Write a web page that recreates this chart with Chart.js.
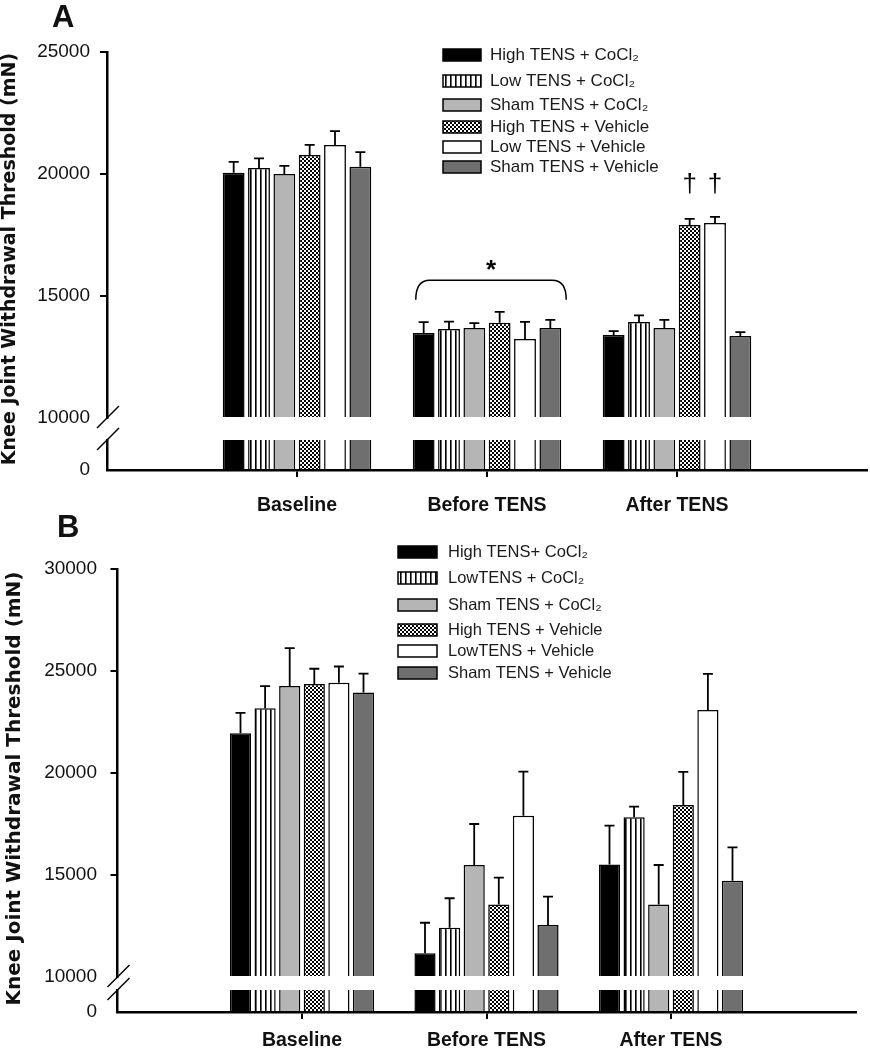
<!DOCTYPE html>
<html>
<head>
<meta charset="utf-8">
<script src="https://cdn.jsdelivr.net/npm/chart.js@4.4.1/dist/chart.umd.min.js"></script>
<style>
  html, body { margin: 0; padding: 0; background: #fff; }
  #page { position: relative; width: 870px; height: 1050px; overflow: hidden; }
  .panel { position: absolute; left: 0; width: 870px; height: 525px; }
  .tag { position: absolute; font: bold 31px "Liberation Sans", Arial, sans-serif; line-height: 1; color: #111; }
</style>
</head>
<body>
<div id="page">
  <div class="panel" style="top:0"><canvas id="chartA" width="870" height="525"></canvas></div>
  <div class="panel" style="top:525px"><canvas id="chartB" width="870" height="525"></canvas></div>
  <div class="tag" style="left:52px;top:1px">A</div>
  <div class="tag" style="left:57px;top:511px">B</div>
</div>
<script>
const groups = ["Baseline", "Before TENS", "After TENS"];
const namesA = ["High TENS + CoCl₂", "Low TENS + CoCl₂", "Sham TENS + CoCl₂", "High TENS + Vehicle", "Low TENS + Vehicle", "Sham TENS + Vehicle"];
const namesB = ["High TENS+ CoCl₂", "LowTENS + CoCl₂", "Sham TENS + CoCl₂", "High TENS + Vehicle", "LowTENS + Vehicle", "Sham TENS + Vehicle"];

// panel A, mN
const aHighCo  = [20050, 13480, 13400];
const aLowCo   = [20250, 13650, 13930];
const aShamCo  = [20000, 13690, 13690];
const aHighVeh = [20780, 13900, 17910];
const aLowVeh  = [21190, 13240, 17990];
const aShamVeh = [20300, 13690, 13360];
const aHighCoErr  = [450, 450, 160];
const aLowCoErr   = [390, 300, 280];
const aShamCoErr  = [330, 200, 330];
const aHighVehErr = [410, 450, 250];
const aLowVehErr  = [570, 700, 250];
const aShamVehErr = [600, 330, 160];

// panel B, mN
const bHighCo  = [21950, 11160, 15520];
const bLowCo   = [23170, 12420, 17830];
const bShamCo  = [24270, 15490, 13560];
const bHighVeh = [24360, 13560, 18430];
const bLowVeh  = [24430, 17910, 23090];
const bShamVeh = [23940, 12550, 14720];
const bHighCoErr  = [1000, 1500, 1900];
const bLowCoErr   = [1090, 1440, 520];
const bShamCoErr  = [1850, 2010, 1930];
const bHighVehErr = [750, 1310, 1630];
const bLowVehErr  = [790, 2160, 1770];
const bShamVehErr = [930, 1390, 1630];

const aTicks = [10000, 15000, 20000, 25000];
const bTicks = [10000, 15000, 20000, 25000, 30000];
const lowTicks = [0];

// annotations in panel A
const braceGroup = 1;
const braceTop = 15650;
const braceEnd = 14850;
const daggerGroup = 2;
const daggerSeries = [3, 4];
const daggerBase = 19260;

const yTitleText = "Knee Joint Withdrawal Threshold (mN)";

function makeFills() {
  const lines = document.createElement("canvas");
  lines.width = 5; lines.height = 5;
  let g = lines.getContext("2d");
  g.fillStyle = "#fff"; g.fillRect(0, 0, 5, 5);
  g.fillStyle = "#000"; g.fillRect(0, 0, 1.6, 5);
  const check = document.createElement("canvas");
  check.width = 4; check.height = 4;
  g = check.getContext("2d");
  g.fillStyle = "#fff"; g.fillRect(0, 0, 4, 4);
  g.fillStyle = "#000"; g.fillRect(0, 0, 2, 2); g.fillRect(2, 2, 2, 2);
  const c = document.createElement("canvas").getContext("2d");
  return ["#000", c.createPattern(lines, "repeat"), "#b5b5b5", c.createPattern(check, "repeat"), "#fff", "#6f6f6f"];
}

// keeps each bar inside its own piece of the broken axis
const clipToAxis = {
  id: "clipToAxis",
  beforeDatasetDraw(chart, args) {
    const ys = chart.scales[args.meta.yAxisID];
    const a = chart.chartArea;
    chart.ctx.save();
    chart.ctx.beginPath();
    chart.ctx.rect(a.left, ys.top, a.right - a.left, ys.bottom - ys.top);
    chart.ctx.clip();
  },
  afterDatasetDraw(chart) {
    chart.ctx.restore();
  }
};

const errorBars = {
  id: "errorBars",
  afterDatasetsDraw(chart) {
    const ctx = chart.ctx;
    chart.data.datasets.forEach((ds, i) => {
      if (!ds.errors) return;
      const meta = chart.getDatasetMeta(i);
      const ys = chart.scales[meta.yAxisID];
      meta.data.forEach((bar, k) => {
        const top = ys.getPixelForValue(ds.data[k].y + ds.errors[k]);
        ctx.save();
        ctx.strokeStyle = "#000";
        ctx.lineWidth = 1.8;
        ctx.beginPath();
        ctx.moveTo(bar.x, bar.y);
        ctx.lineTo(bar.x, top);
        ctx.moveTo(bar.x - 5, top);
        ctx.lineTo(bar.x + 5, top);
        ctx.stroke();
        ctx.restore();
      });
    });
  }
};

const breakMarks = {
  id: "breakMarks",
  afterDraw(chart) {
    const up = chart.scales.y, low = chart.scales.yLow, x = up.right;
    const ctx = chart.ctx;
    ctx.save();
    ctx.strokeStyle = "#000";
    ctx.lineWidth = 1.5;
    [up.bottom, low.top].forEach(y => {
      ctx.beginPath();
      ctx.moveTo(x - 10, y + 10);
      ctx.lineTo(x + 12, y - 12);
      ctx.stroke();
    });
    ctx.restore();
  }
};

function makeTitle(x, font) {
  return {
    id: "yTitle",
    afterDraw(chart) {
      const a = chart.chartArea, ctx = chart.ctx;
      ctx.save();
      ctx.translate(x, (a.top + a.bottom) / 2 - 2);
      ctx.rotate(-Math.PI / 2);
      ctx.font = font;
      ctx.fillStyle = "#111";
      ctx.textAlign = "center";
      ctx.textBaseline = "middle";
      ctx.fillText(yTitleText, 0, 0);
      ctx.restore();
    }
  };
}

function makeLegend(rows, boxX, boxW, textX, font) {
  return {
    id: "swatches",
    afterDraw(chart) {
      const ctx = chart.ctx;
      ctx.save();
      rows.forEach((cy, i) => {
        const ds = chart.data.datasets[2 * i];
        ctx.fillStyle = ds.backgroundColor;
        ctx.fillRect(boxX, cy - 6, boxW, 12);
        ctx.strokeStyle = "#000";
        ctx.lineWidth = 1.5;
        ctx.strokeRect(boxX, cy - 6, boxW, 12);
        ctx.fillStyle = "#1a1a1a";
        ctx.font = font;
        ctx.textAlign = "left";
        ctx.textBaseline = "middle";
        ctx.fillText(ds.label, textX, cy);
      });
      ctx.restore();
    }
  };
}

const marksA = {
  id: "marksA",
  afterDatasetsDraw(chart) {
    const ctx = chart.ctx, ys = chart.scales.y;
    const first = chart.getDatasetMeta(0).data[braceGroup];
    const last = chart.getDatasetMeta(10).data[braceGroup];
    const l = first.x - first.width / 2 + 3, r = last.x + last.width / 2 + 5;
    const yt = ys.getPixelForValue(braceTop), yd = ys.getPixelForValue(braceEnd);
    ctx.save();
    ctx.strokeStyle = "#000";
    ctx.lineWidth = 1.5;
    ctx.beginPath();
    ctx.moveTo(l, yd);
    ctx.quadraticCurveTo(l, yt, l + 14, yt);
    ctx.lineTo(r - 14, yt);
    ctx.quadraticCurveTo(r, yt, r, yd);
    ctx.stroke();
    ctx.fillStyle = "#000";
    ctx.textAlign = "center";
    ctx.textBaseline = "alphabetic";
    ctx.font = "bold 26px 'Liberation Sans'";
    ctx.fillText("*", (l + r) / 2, yt - 2);
    ctx.font = "26px 'Liberation Sans'";
    daggerSeries.forEach(s => {
      const b = chart.getDatasetMeta(s * 2).data[daggerGroup];
      ctx.fillText("†", b.x, ys.getPixelForValue(daggerBase));
    });
    ctx.restore();
  }
};

function panel(id, p) {
  const fills = makeFills();
  const datasets = [];
  p.values.forEach((vals, i) => {
    const pts = vals.map((y, k) => ({ x: k, y }));
    const style = {
      backgroundColor: fills[i], borderColor: "#000", borderWidth: 1.5, borderSkipped: "start",
      stack: "g" + i, categoryPercentage: 0.8, barPercentage: 0.86
    };
    datasets.push(Object.assign({ label: p.names[i], data: pts, yAxisID: "y", base: p.ticks[0], errors: p.errors[i] }, style));
    datasets.push(Object.assign({ label: p.names[i], data: pts, yAxisID: "yLow" }, style));
  });

  const tickFont = { family: "'Liberation Sans', Arial, sans-serif", size: 19 };
  const plain = v => String(v);
  const hideEnds = c => (c.tick && (c.tick.value === p.ticks[0] || c.tick.value === 0)) ? "rgba(0,0,0,0)" : "#000";

  return new Chart(document.getElementById(id), {
    type: "bar",
    data: { datasets },
    options: {
      responsive: false,
      animation: false,
      events: [],
      layout: { padding: { top: p.top, right: p.right, left: 0, bottom: 0 } },
      plugins: { legend: { display: false }, tooltip: { enabled: false } },
      scales: {
        x: {
          type: "linear", min: -1, max: 3, offset: false, z: 1,
          afterBuildTicks: s => { s.ticks = groups.map((g, i) => ({ value: i })); },
          afterFit: s => { s.height = p.xHeight; },
          ticks: {
            callback: v => groups[v], autoSkip: false, maxRotation: 0, padding: p.xPad, color: "#111",
            font: { family: "'Liberation Sans', Arial, sans-serif", size: 19.5, weight: "bold" }
          },
          grid: { drawOnChartArea: false, offset: false, tickLength: 7, color: "#000", lineWidth: 2 },
          border: { color: "#000", width: 2.5 }
        },
        y: {
          type: "linear", min: p.ticks[0], max: p.ticks[p.ticks.length - 1],
          stack: "v", stackWeight: p.weights[0], weight: 3, z: 1,
          afterBuildTicks: s => { s.ticks = p.ticks.map(v => ({ value: v })); },
          afterFit: s => { s.width = p.axisX; },
          ticks: { padding: p.yPad, color: "#111", font: tickFont, callback: plain },
          grid: { drawOnChartArea: false, tickLength: 7, color: hideEnds, lineWidth: 2 },
          border: { color: "#000", width: 2.5 }
        },
        yGap: {
          type: "linear", display: false, min: 0, max: 1,
          stack: "v", stackWeight: p.weights[1], weight: 2
        },
        yLow: {
          type: "linear", min: 0, max: 1000,
          stack: "v", stackWeight: p.weights[2], weight: 1, z: 1,
          afterBuildTicks: s => { s.ticks = lowTicks.map(v => ({ value: v })); },
          afterFit: s => { s.width = p.axisX; },
          ticks: { padding: p.yPad, color: "#111", font: tickFont, callback: plain },
          grid: { drawOnChartArea: false, tickLength: 7, color: hideEnds, lineWidth: 2 },
          border: { color: "#000", width: 2.5 }
        }
      }
    },
    plugins: [clipToAxis, errorBars, breakMarks].concat(p.extra)
  });
}

panel("chartA", {
  names: namesA,
  values: [aHighCo, aLowCo, aShamCo, aHighVeh, aLowVeh, aShamVeh],
  errors: [aHighCoErr, aLowCoErr, aShamCoErr, aHighVehErr, aLowVehErr, aShamVehErr],
  ticks: aTicks,
  top: 52, right: 3, axisX: 107, xHeight: 55, weights: [366, 22, 30],
  xPad: 17, yPad: 10,
  extra: [
    makeTitle(10, "bold 19px 'DejaVu Sans'"),
    makeLegend([55, 81, 105, 127, 147, 167], 443, 38, 490, "17px 'Liberation Sans'"),
    marksA
  ]
});

panel("chartB", {
  names: namesB,
  values: [bHighCo, bLowCo, bShamCo, bHighVeh, bLowVeh, bShamVeh],
  errors: [bHighCoErr, bLowCoErr, bShamCoErr, bHighVehErr, bLowVehErr, bShamVehErr],
  ticks: bTicks,
  top: 44, right: 14.5, axisX: 117.5, xHeight: 38, weights: [408, 13, 22],
  xPad: 10, yPad: 13.5,
  extra: [
    makeTitle(14.5, "bold 20px 'DejaVu Sans'"),
    makeLegend([27, 53, 80, 105, 126, 148], 398, 39, 448, "16.5px 'Liberation Sans'")
  ]
});
</script>
</body>
</html>
